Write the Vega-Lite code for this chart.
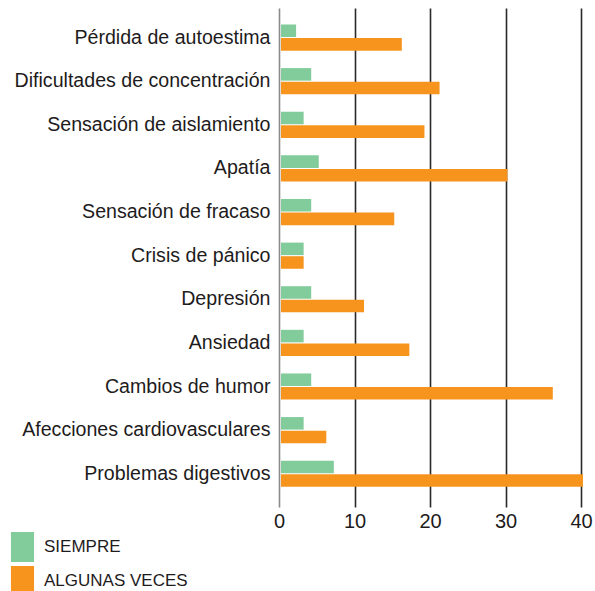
{
  "$schema": "https://vega.github.io/schema/vega-lite/v6.json",
  "autosize": {"type": "none"},
  "padding": {"left": 279, "top": 8, "right": 14, "bottom": 84},
  "width": 302,
  "height": 499,
  "background": "white",
  "data": {
    "values": [
      {"cat": "Pérdida de autoestima", "serie": "SIEMPRE", "v": 2},
      {"cat": "Pérdida de autoestima", "serie": "ALGUNAS VECES", "v": 16},
      {"cat": "Dificultades de concentración", "serie": "SIEMPRE", "v": 4},
      {"cat": "Dificultades de concentración", "serie": "ALGUNAS VECES", "v": 21},
      {"cat": "Sensación de aislamiento", "serie": "SIEMPRE", "v": 3},
      {"cat": "Sensación de aislamiento", "serie": "ALGUNAS VECES", "v": 19},
      {"cat": "Apatía", "serie": "SIEMPRE", "v": 5},
      {"cat": "Apatía", "serie": "ALGUNAS VECES", "v": 30},
      {"cat": "Sensación de fracaso", "serie": "SIEMPRE", "v": 4},
      {"cat": "Sensación de fracaso", "serie": "ALGUNAS VECES", "v": 15},
      {"cat": "Crisis de pánico", "serie": "SIEMPRE", "v": 3},
      {"cat": "Crisis de pánico", "serie": "ALGUNAS VECES", "v": 3},
      {"cat": "Depresión", "serie": "SIEMPRE", "v": 4},
      {"cat": "Depresión", "serie": "ALGUNAS VECES", "v": 11},
      {"cat": "Ansiedad", "serie": "SIEMPRE", "v": 3},
      {"cat": "Ansiedad", "serie": "ALGUNAS VECES", "v": 17},
      {"cat": "Cambios de humor", "serie": "SIEMPRE", "v": 4},
      {"cat": "Cambios de humor", "serie": "ALGUNAS VECES", "v": 36},
      {"cat": "Afecciones cardiovasculares", "serie": "SIEMPRE", "v": 3},
      {"cat": "Afecciones cardiovasculares", "serie": "ALGUNAS VECES", "v": 6},
      {"cat": "Problemas digestivos", "serie": "SIEMPRE", "v": 7},
      {"cat": "Problemas digestivos", "serie": "ALGUNAS VECES", "v": 40}
    ]
  },
  "config": {
    "view": {"stroke": null},
    "font": "Liberation Sans"
  },
  "mark": {"type": "bar", "xOffset": 2, "clip": false},
  "encoding": {
    "y": {
      "field": "cat",
      "type": "nominal",
      "sort": null,
      "title": null,
      "scale": {"paddingInner": 0.4, "paddingOuter": 0.42, "align": 0.45},
      "axis": {
        "domain": false,
        "ticks": false,
        "grid": false,
        "labelFontSize": 19.6,
        "labelColor": "#1e1b1c",
        "labelPadding": 9,
        "labelLimit": 400
      }
    },
    "x": {
      "field": "v",
      "type": "quantitative",
      "title": null,
      "scale": {"domain": [0, 40], "nice": false},
      "axis": {
        "values": [0, 10, 20, 30, 40],
        "domain": false,
        "ticks": false,
        "grid": true,
        "gridColor": {"condition": {"test": "datum.value === 0", "value": "#8a8a8a"}, "value": "#2a2a2a"},
        "gridWidth": 1.6,
        "gridOpacity": 1,
        "labelFontSize": 20,
        "labelColor": "#1e1b1c",
        "labelPadding": 4,
        "labelFlush": false
      }
    },
    "yOffset": {
      "field": "serie",
      "type": "nominal",
      "sort": ["SIEMPRE", "ALGUNAS VECES"],
      "scale": {"paddingInner": 0.08}
    },
    "color": {
      "field": "serie",
      "type": "nominal",
      "sort": ["SIEMPRE", "ALGUNAS VECES"],
      "scale": {"domain": ["SIEMPRE", "ALGUNAS VECES"], "range": ["#82cc9c", "#f7941e"]},
      "legend": {
        "title": null,
        "orient": "none",
        "legendX": -271.5,
        "legendY": 524,
        "padding": 0,
        "symbolType": "M-0.77,-1H0.77V1H-0.77Z",
        "symbolSize": 900,
        "symbolStrokeWidth": 0,
        "symbolOpacity": 1,
        "labelFontSize": 17,
        "labelColor": "#1e1b1c",
        "labelOffset": 6.5,
        "rowPadding": 4
      }
    }
  }
}
